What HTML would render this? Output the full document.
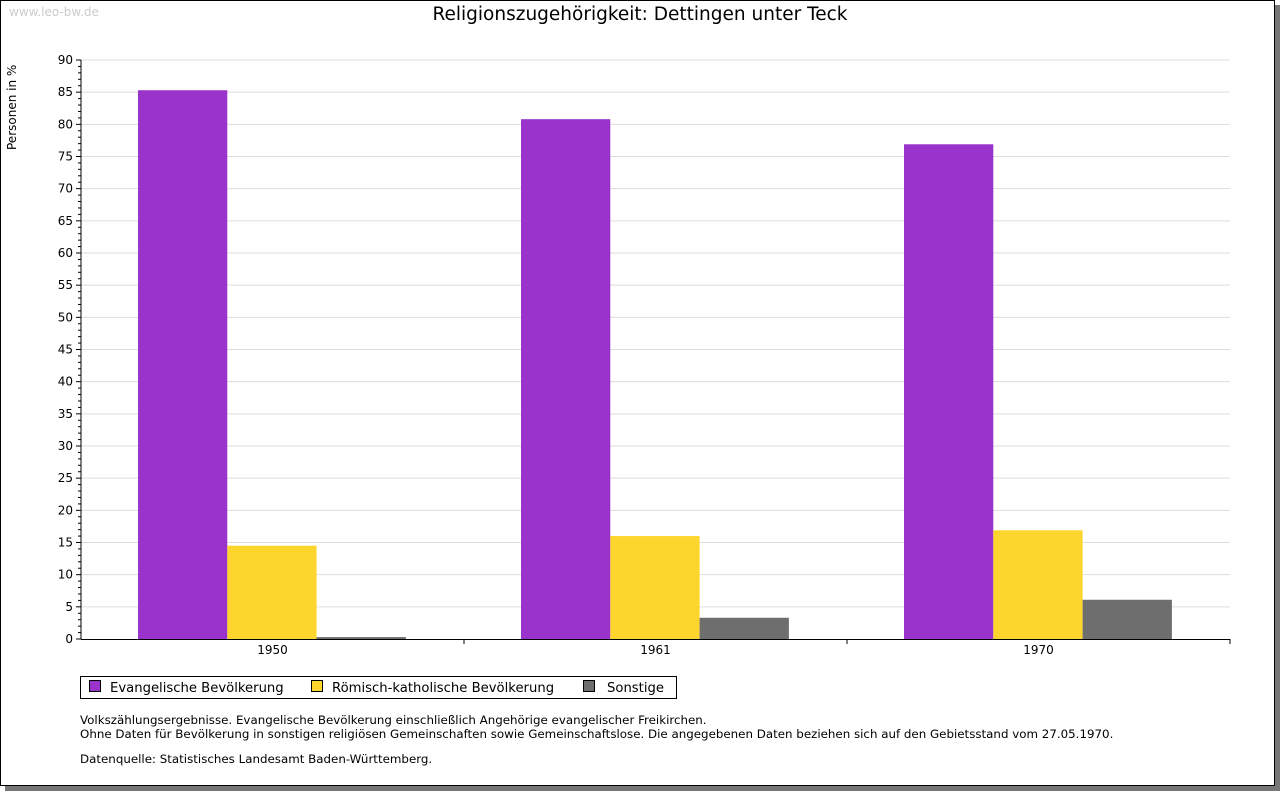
<!DOCTYPE html>
<html><head><meta charset="utf-8"><style>
body{margin:0;width:1280px;height:791px;background:#fff;font-family:"DejaVu Sans","Liberation Sans",sans-serif;position:relative;overflow:hidden}
.t{position:absolute;font-size:11.85px;color:#000;white-space:nowrap}
</style></head><body>
<div style="position:absolute;left:0;top:0;width:1273px;height:784px;border:1px solid #000;box-shadow:5px 5px 0 #777;background:#fff"></div>
<div class="t" style="left:9px;top:5px;color:#ccc;font-size:12px">www.leo-bw.de</div>
<div class="t" style="left:0;width:1280px;text-align:center;top:4px;font-size:18.5px">Religionszugehörigkeit: Dettingen unter Teck</div>
<svg id="c" width="1280" height="791" style="position:absolute;left:0;top:0"></svg>
<div style="position:absolute;left:80px;top:676px;width:595px;height:21px;border:1px solid #000;font-size:13.2px">
<span style="position:absolute;left:8px;top:3px"><span style="display:inline-block;width:10px;height:10px;border:1px solid #000;background:#9933cc;margin-right:9px"></span>Evangelische Bevölkerung</span>
<span style="position:absolute;left:230px;top:3px"><span style="display:inline-block;width:10px;height:10px;border:1px solid #000;background:#fcd62d;margin-right:9px"></span>Römisch-katholische Bevölkerung</span>
<span style="position:absolute;left:502px;top:3px"><span style="display:inline-block;width:10px;height:10px;border:1px solid #000;background:#6e6e6e;margin-right:12px"></span>Sonstige</span>
</div>
<div class="t" style="left:80px;top:713px;line-height:14px">Volkszählungsergebnisse. Evangelische Bevölkerung einschließlich Angehörige evangelischer Freikirchen.<br>Ohne Daten für Bevölkerung in sonstigen religiösen Gemeinschaften sowie Gemeinschaftslose. Die angegebenen Daten beziehen sich auf den Gebietsstand vom 27.05.1970.</div>
<div class="t" style="left:80px;top:752px">Datenquelle: Statistisches Landesamt Baden-Württemberg.</div>
<script>
const categories=["1950","1961","1970"];
const evangelisch=[85.3,80.8,76.9];
const katholisch=[14.5,16.0,16.9];
const sonstige=[0.3,3.3,6.1];
const yTicks=[0,5,10,15,20,25,30,35,40,45,50,55,60,65,70,75,80,85,90];
const NS="http://www.w3.org/2000/svg",svg=document.getElementById('c');
const X0=81,X1=1230,Y0=639,Y1=60,YMAX=90;
const y=v=>Y0-(v/YMAX)*(Y0-Y1);
const cw=(X1-X0)/categories.length;
function mk(t,a,p){const e=document.createElementNS(NS,t);for(const k in a)e.setAttribute(k,a[k]);(p||svg).appendChild(e);return e;}
yTicks.forEach(v=>{
 if(v>0){const g=mk('line',{x1:X0,x2:X1,y1:y(v),y2:y(v),stroke:'#ddd'});
 
 }
 const l=mk('text',{x:X0-8,y:y(v)+4,'text-anchor':'end','font-size':12,'font-family':'DejaVu Sans, Liberation Sans, sans-serif'});l.textContent=v;
 
 
 mk('line',{x1:X0-5,x2:X0,y1:y(v),y2:y(v),stroke:'#000'});
});
for(let v=0;v<=YMAX;v++){if(v%5)mk('line',{x1:X0-3,x2:X0,y1:y(v),y2:y(v),stroke:'#000'});}
const series=[[evangelisch,'#9933cc','bar-evangelisch'],[katholisch,'#fcd62d','bar-katholisch'],[sonstige,'#6e6e6e','bar-sonstige']];
const bw=89.3,off=57;
categories.forEach((c,i)=>{
 series.forEach((s,j)=>{
  const v=s[0][i];
  const r=mk('rect',{x:X0+i*cw+off+j*bw,y:y(v),width:bw,height:Y0-y(v),fill:s[1]});
  
  
 });
 const t=mk('text',{x:X0+(i+0.5)*cw,y:Y0+15,'text-anchor':'middle','font-size':12,'font-family':'DejaVu Sans, Liberation Sans, sans-serif'});t.textContent=c;
 
 
 mk('line',{x1:X0+(i+1)*cw,x2:X0+(i+1)*cw,y1:Y0,y2:Y0+5,stroke:'#000'});
});
mk('line',{x1:X0,x2:X0,y1:Y1,y2:Y0,stroke:'#000'});
mk('line',{x1:X0,x2:X1,y1:Y0+0.5,y2:Y0+0.5,stroke:'#000'});
const yt=mk('text',{x:0,y:0,transform:'translate(16,150) rotate(-90)','font-size':12,'font-family':'DejaVu Sans, Liberation Sans, sans-serif'});yt.textContent='Personen in %';


</script>
</body></html>
